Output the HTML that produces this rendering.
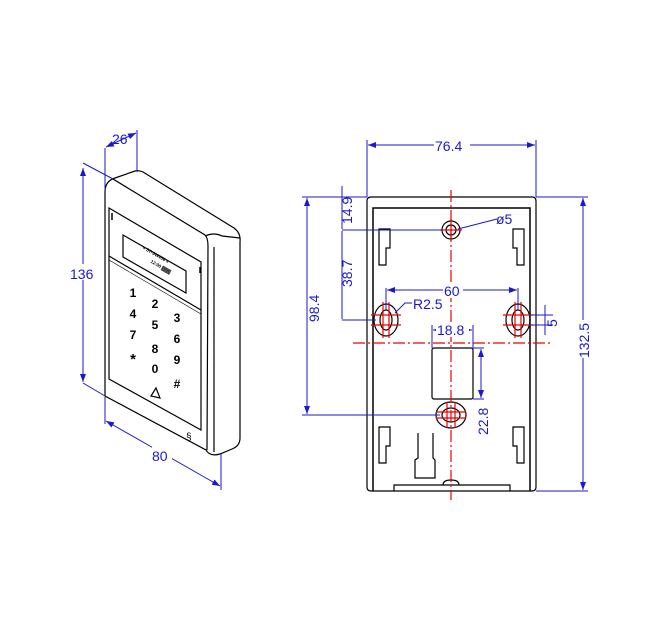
<!DOCTYPE html>
<html><head><style>body{margin:0;background:#fff}svg{display:block}</style></head><body>
<svg width="660" height="630" viewBox="0 0 660 630" xmlns="http://www.w3.org/2000/svg" font-family="Liberation Sans, sans-serif">
<defs>
<marker id="a" markerWidth="8" markerHeight="6" refX="8" refY="3" orient="auto-start-reverse" markerUnits="userSpaceOnUse"><path d="M0,0 L8,3 L0,6 Z" fill="#1a1acc"/></marker>
</defs>
<!-- LEFT DEVICE -->
<g fill="none" stroke="#000" stroke-width="1.2">
<path d="M105,192 Q105,181 115,178 L135,171 Q139,170 143,172 L234,228 Q241,233 240,242 L240,438 Q240,446 232,449 L220,454 Q210,457 206,450 L105,396 Z" fill="#fff"/>
<path d="M113,179 L205,235 Q208,238 208,246 L207,450"/>
<path d="M205,236 Q214,232 222,236 L240,238"/>
<path d="M214,247 L214,452"/>
<path d="M109,208 L201,262 L201,430 L109,379 Z"/>
<path d="M123,235 L186,271 L186,293 L123,257 Z"/>
<path d="M109,256 L201,310"/>
<path d="M109,260 L201,314" stroke-width="0.6"/>
<path d="M112,213 L112,220 M200,267 L200,273" stroke-width="1.5"/>
</g>
<g font-size="12" font-weight="bold" text-anchor="middle" fill="#000">
<text x="133" y="297">1</text><text x="155" y="308">2</text><text x="177" y="322">3</text>
<text x="133" y="318">4</text><text x="155" y="329">5</text><text x="177" y="343">6</text>
<text x="133" y="339">7</text><text x="155" y="353">8</text><text x="177" y="364">9</text>
<text x="133" y="364" font-size="15">*</text><text x="155" y="373">0</text><text x="177" y="388">#</text>
</g>
<path d="M151,396 L156,388 L160,398 Z" fill="none" stroke="#000" stroke-width="1.2"/>
<text x="155" y="256" font-size="4.5" font-weight="bold" transform="rotate(30 155 256)" text-anchor="middle">« ST-SW456 »</text>
<text x="160" y="268" font-size="4.5" font-weight="bold" transform="rotate(30 160 268)" text-anchor="middle">12:00 ▓▓▓</text>
<text x="186" y="440" font-size="10">§</text>
<!-- left dims -->
<g stroke="#1a1acc" stroke-width="1" fill="none">
<path d="M83,163 L113,179 M83,383 L105,396"/>
<path d="M83,168 L83,382" marker-start="url(#a)" marker-end="url(#a)"/>
<path d="M105,148 L105,190 M137,130 L137,172"/>
<path d="M106,147 L136,133" marker-start="url(#a)" marker-end="url(#a)"/>
<path d="M105,397 L105,424 M221,454 L221,490"/>
<path d="M106,421 L220,486" marker-start="url(#a)" marker-end="url(#a)"/>
</g>
<g fill="#1a1acc" font-size="14">
<rect x="70" y="264" width="26" height="16" fill="#fff"/>
<text x="70" y="279">136</text>
<text x="112" y="144">26</text>
<rect x="152" y="446" width="20" height="16" fill="#fff"/>
<text x="152" y="461">80</text>
</g>
<!-- RIGHT PLATE -->
<g fill="none" stroke="#000" stroke-width="1.2">
<path d="M371,197 L532,197 Q536,197 536,201 L536,487 Q536,491 532,491 L371,491 Q367,491 367,487 L367,201 Q367,197 371,197 Z"/>
<path d="M373,491 L373,208 L530,208 L530,491" stroke-width="1.5"/>
<path d="M394,491 L394,485 L510,485 L510,491"/>
<path d="M443,485 Q443,480 451,480 Q459,480 459,485"/>
<rect x="432" y="348" width="41" height="51" rx="2"/>
<circle cx="451" cy="230" r="9"/><circle cx="451" cy="230" r="5"/>
<ellipse cx="386" cy="320" rx="12" ry="16"/><ellipse cx="386" cy="320" rx="6" ry="10"/>
<ellipse cx="518" cy="320" rx="12" ry="16"/><ellipse cx="518" cy="320" rx="6" ry="10"/>
<ellipse cx="451" cy="415" rx="15" ry="13"/><ellipse cx="451" cy="415" rx="9" ry="7"/>
<path d="M379,229 L390,229 L390,248 L386,248 L386,265 L379,265 Z"/>
<path d="M524,229 L513,229 L513,248 L517,248 L517,265 L524,265 Z"/>
<path d="M379,427 L390,427 L390,446 L386,446 L386,463 L379,463 Z"/>
<path d="M524,427 L513,427 L513,446 L517,446 L517,463 L524,463 Z"/>
<path d="M418,433 L418,458 L415,460 L415,478 L435,478 L435,460 L433,458 L433,433"/>
</g>
<g stroke="#e00" stroke-width="1.2" fill="none" stroke-dasharray="12,3,2,3">
<path d="M451,190 L451,500"/>
<path d="M353,343 L550,343"/>
</g>
<g stroke="#e00" stroke-width="1.2" fill="none">
<path d="M371,315 L401,315 M371,325 L401,325 M383,302 L383,338 M389,302 L389,338"/>
<path d="M503,315 L533,315 M503,325 L533,325 M515,302 L515,338 M521,302 L521,338"/>
<path d="M436,412 L466,412 M436,418 L466,418 M447,402 L447,428 M455,402 L455,428"/>
<path d="M440,230 L462,230 M451,219 L451,241"/>
</g>
<!-- right dims -->
<g stroke="#1a1acc" stroke-width="1" fill="none">
<path d="M367,140 L367,197 M536,140 L536,197"/>
<path d="M368,145 L535,145" marker-start="url(#a)" marker-end="url(#a)"/>
<path d="M302,197 L367,197 M302,415 L440,415"/>
<path d="M307,198 L307,414" marker-start="url(#a)" marker-end="url(#a)"/>
<path d="M342,186 L342,229 M342,230 L442,230 M342,231 L342,319 M342,320 L376,320"/>
<path d="M386,310 L386,288 M518,310 L518,288"/>
<path d="M387,290 L517,290" marker-start="url(#a)" marker-end="url(#a)"/>
<path d="M432,325 L432,348 M473,325 L473,348"/>
<path d="M433,330 L472,330" marker-start="url(#a)" marker-end="url(#a)"/>
<path d="M473,348 L484,348 M473,399 L484,399"/>
<path d="M481,349 L481,398" marker-start="url(#a)" marker-end="url(#a)"/>
<path d="M530,315 L553,315 M530,325 L553,325 M545,305 L545,335"/>
<path d="M536,197 L588,197 M536,491 L588,491"/>
<path d="M583,198 L583,490" marker-start="url(#a)" marker-end="url(#a)"/>
<path d="M395,313 L405,303 L412,303"/>
<path d="M458,229 L497,219"/>
</g>
<g fill="#1a1acc" font-size="14">
<rect x="434" y="137" width="36" height="16" fill="#fff"/>
<text x="435" y="151">76.4</text>
<rect x="443" y="282" width="20" height="16" fill="#fff"/>
<text x="444" y="296">60</text>
<rect x="436" y="322" width="33" height="15" fill="#fff"/>
<text x="437" y="335">18.8</text>
<text x="413" y="309">R2.5</text>
<text x="496" y="224">ø5</text>
<text transform="translate(319,322) rotate(-90)">98.4</text>
<text transform="translate(352,224) rotate(-90)">14.9</text>
<text transform="translate(352,287) rotate(-90)">38.7</text>
<text transform="translate(488,435) rotate(-90)">22.8</text>
<text transform="translate(557,327) rotate(-90)">5</text>
<rect x="576" y="320" width="14" height="38" fill="#fff"/>
<text transform="translate(589,358) rotate(-90)">132.5</text>
</g>
</svg>
</body></html>
